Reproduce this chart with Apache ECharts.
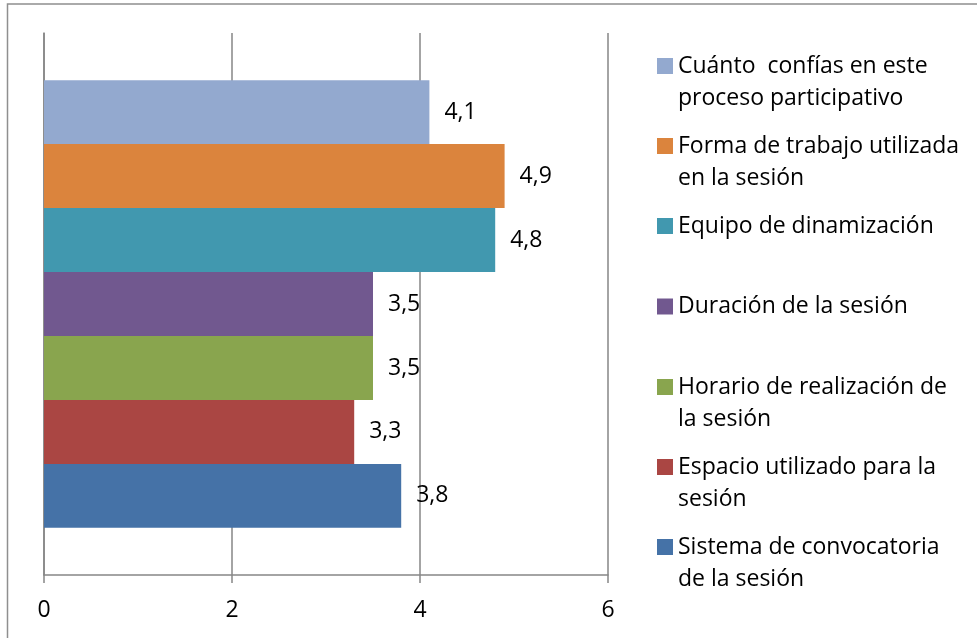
<!DOCTYPE html>
<html>
<head>
<meta charset="utf-8">
<script src="https://cdn.jsdelivr.net/npm/echarts@6/dist/echarts.min.js"></script>
<style>
html,body{margin:0;padding:0;background:#fff;}
#chart{width:977px;height:638px;}
</style>
</head>
<body>
<div id="chart"></div>
<script>
// ---- data ----
const legendLines = [
  ["Cuánto  confías en este", "proceso participativo"],
  ["Forma de trabajo utilizada", "en la sesión"],
  ["Equipo de dinamización"],
  ["Duración de la sesión"],
  ["Horario de realización de", "la sesión"],
  ["Espacio utilizado para la", "sesión"],
  ["Sistema de convocatoria", "de la sesión"]
];
const seriesNames = legendLines.map(l => l.join(' '));
const values = [4.1, 4.9, 4.8, 3.5, 3.5, 3.3, 3.8];
const categories = [''];
const xMin = 0, xMax = 6, xStep = 2;

// ---- style ----
const colors = ['#93A9CF', '#DB843D', '#4198AF', '#71588F', '#89A54E', '#AA4643', '#4572A7'];
const legendCenters = [66, 146, 226, 306.5, 387, 467, 547];
const FONT = '"Open Sans"';
const LH = 32;
const grey = '#868686';

const chart = echarts.init(document.getElementById('chart'), null, {renderer: 'canvas'});

const series = seriesNames.map((name, i) => ({
  name: name,
  type: 'bar',
  data: [values[i]],
  barGap: '0%',
  barCategoryGap: '17.4%',
  itemStyle: {color: colors[i]},
  label: {
    show: true,
    position: 'right',
    distance: 15,
    fontFamily: FONT,
    fontSize: 23,
    color: '#000',
    formatter: p => String(p.value).replace('.', ',')
  },
  emphasis: {disabled: true}
}));

const legends = seriesNames.map((name, i) => {
  const lines = legendLines[i];
  const multi = lines.length > 1;
  return {
    data: [name],
    left: 657,
    top: legendCenters[i] - (multi ? LH * 1.5 : LH / 2),
    padding: 0,
    itemWidth: 16,
    itemHeight: 16,
    icon: 'rect',
    selectedMode: false,
    formatter: () => (multi ? '\n' : '') + lines.join('\n'),
    textStyle: {fontFamily: FONT, fontSize: 23, color: '#000', lineHeight: LH}
  };
});

chart.setOption({
  backgroundColor: '#fff',
  animation: false,
  color: colors,
  legend: legends,
  grid: {left: 44, right: 369, top: 33, bottom: 63, containLabel: false},
  xAxis: {
    type: 'value',
    min: xMin, max: xMax, interval: xStep,
    axisLine: {show: true, lineStyle: {color: grey, width: 1.5}},
    axisTick: {show: true, length: 8, lineStyle: {color: grey, width: 1.5}},
    axisLabel: {fontFamily: FONT, fontSize: 23, color: '#000', margin: 24},
    splitLine: {show: true, lineStyle: {color: grey, width: 1.5}}
  },
  yAxis: {
    type: 'category',
    data: categories,
    axisLine: {show: true, lineStyle: {color: grey, width: 1.5}},
    axisTick: {show: false},
    axisLabel: {show: false},
    splitLine: {show: false}
  },
  graphic: [{
    type: 'rect',
    silent: true,
    shape: {x: 7.5, y: 4, width: 1000, height: 700},
    style: {fill: 'none', stroke: '#8f8f8f', lineWidth: 1.5}
  }],
  series: series
});
</script>
</body>
</html>
